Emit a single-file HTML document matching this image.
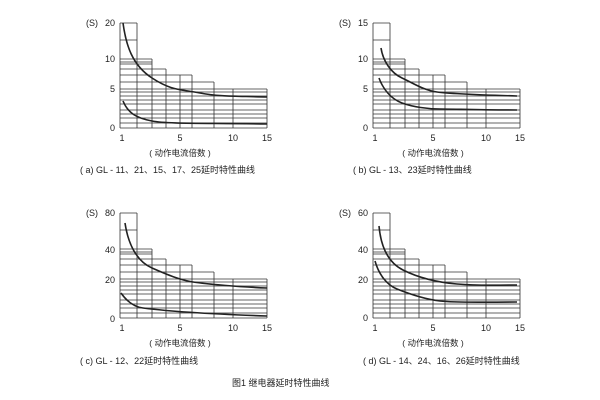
<!DOCTYPE html>
<html><head><meta charset="utf-8"><style>
html,body{margin:0;padding:0;background:#fff;}
svg{display:block;font-family:"Liberation Sans","Noto Sans CJK SC",sans-serif;}
</style></head><body>
<svg width="600" height="400" viewBox="0 0 600 400" xmlns="http://www.w3.org/2000/svg">
<defs>
<g id="grid" fill="none" stroke="#333" stroke-width="0.8">
<path d="M0,0V105M17,0V105M32,36V105M46,46V105M60,52V105M72,52V105M94,59V105M113,66V105M147,66V105"/>
<path d="M0,0H17M0,17H17M0,36H32M0,39H32M0,41H32M0,46H46M0,52H72M0,59H94M0,66H147M0,69H147M0,73H147M0,77H147M0,81H147M0,87H147M0,91H147M0,95H147M0,100H147M0,105H147"/>
</g>
<g id="xl" font-size="9" fill="#222" text-anchor="middle">
<text x="2" y="118">1</text><text x="60" y="118">5</text><text x="113" y="118">10</text><text x="147" y="118">15</text>
<text x="60" y="133" font-size="8.5">( 动作电流倍数 )</text>
</g>
</defs>
<g font-size="9" fill="#222">
<g transform="translate(120,23)">
<use href="#grid"/><use href="#xl"/>
<path d="M3,0 C6,22 12,42 32,55 S60,66 80,70 S120,73 147,74" fill="none" stroke="#222" stroke-width="1.6"/>
<path d="M3,78 C8,90 16,95 32,98 S80,100 147,101" fill="none" stroke="#222" stroke-width="1.6"/>
<text x="-34" y="3">(S)</text>
<g text-anchor="end"><text x="-5" y="3">20</text><text x="-5" y="39">10</text><text x="-5" y="69">5</text><text x="-5" y="108">0</text></g>
</g>
<text x="80" y="173">( a) GL - 11、21、15、17、25延时特性曲线</text>
<g transform="translate(373,23)">
<use href="#grid"/><use href="#xl"/>
<path d="M8,25 C10,38 18,50 29,55 S50,67 64,69 S110,72 144,73" fill="none" stroke="#222" stroke-width="1.6"/>
<path d="M6,55 C10,66 18,76 29,80 S55,86 67,86 S110,87 144,87" fill="none" stroke="#222" stroke-width="1.6"/>
<text x="-34" y="3">(S)</text>
<g text-anchor="end"><text x="-5" y="3">15</text><text x="-5" y="39">10</text><text x="-5" y="69">5</text><text x="-5" y="108">0</text></g>
</g>
<text x="353" y="173">( b) GL - 13、23延时特性曲线</text>
<g transform="translate(120,213)">
<use href="#grid"/><use href="#xl"/>
<path d="M5,10 C8,30 16,48 32,55 S60,67 73,69 S120,74 147,75" fill="none" stroke="#222" stroke-width="1.6"/>
<path d="M1,80 C8,90 15,94 23,95 S60,100 147,103" fill="none" stroke="#222" stroke-width="1.6"/>
<text x="-34" y="3">(S)</text>
<g text-anchor="end"><text x="-5" y="3">80</text><text x="-5" y="40">40</text><text x="-5" y="70">20</text><text x="-5" y="109">0</text></g>
</g>
<text x="80" y="364">( c) GL - 12、22延时特性曲线</text>
<g transform="translate(373,213)">
<use href="#grid"/><use href="#xl"/>
<path d="M6,13 C8,35 16,50 30,57 S60,69 84,71 S120,72 144,72" fill="none" stroke="#222" stroke-width="1.6"/>
<path d="M2,48 C6,62 14,72 24,76 S50,86 67,88 S110,89 144,89" fill="none" stroke="#222" stroke-width="1.6"/>
<text x="-34" y="3">(S)</text>
<g text-anchor="end"><text x="-5" y="3">60</text><text x="-5" y="40">40</text><text x="-5" y="70">20</text><text x="-5" y="108">0</text></g>
</g>
<text x="363" y="364">( d) GL - 14、24、16、26延时特性曲线</text>
<text x="232" y="386">图1  继电器延时特性曲线</text>
</g>
</svg>
</body></html>
